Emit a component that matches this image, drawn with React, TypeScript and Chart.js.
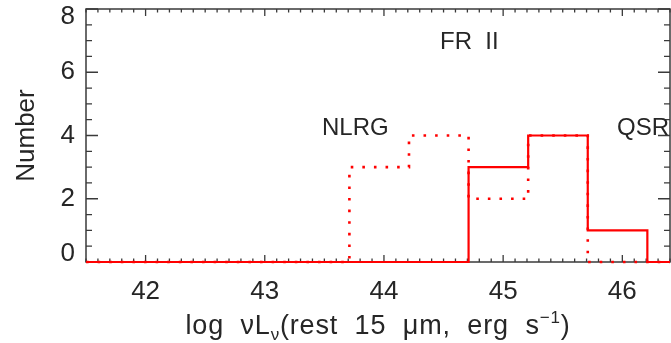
import React, { useEffect, useRef } from 'react';
import { Chart, registerables } from 'chart.js';

Chart.register(...registerables);

// ---- data ----
const binEdges = [43.71, 44.21, 44.71, 45.21, 45.71, 46.21];
const qsrCounts = [0, 0, 3, 4, 1];
const nlrgCounts = [3, 4, 2, 4, 0];
const xMin = 41.5;
const xMax = 46.4;
const yMin = 0;
const yMax = 8;
const xTickValues = [42, 43, 44, 45, 46];
const xTickLabels = ['42', '43', '44', '45', '46'];
const yTickValues = [0, 2, 4, 6, 8];
const yTickLabels = ['0', '2', '4', '6', '8'];

function histPoints(counts: number[]) {
  const pts: { x: number; y: number }[] = [{ x: xMin, y: 0 }];
  let prev = 0;
  for (let i = 0; i < counts.length; i++) {
    pts.push({ x: binEdges[i], y: prev });
    pts.push({ x: binEdges[i], y: counts[i] });
    prev = counts[i];
  }
  const last = binEdges[binEdges.length - 1];
  pts.push({ x: last, y: prev });
  pts.push({ x: last, y: 0 });
  pts.push({ x: xMax, y: 0 });
  return pts;
}

const FONT = '"Liberation Sans", Arial, Helvetica, sans-serif';
const TEXT = '#262626';
const AXIS = '#3a3a3a';

const framePlugin = {
  id: 'idlFrame',
  beforeDatasetsDraw(chart: any) {
    const { ctx, chartArea: a, scales } = chart;
    const xs = scales.x;
    const ys = scales.y;
    ctx.save();
    ctx.strokeStyle = AXIS;
    ctx.lineWidth = 1.5;
    ctx.strokeRect(a.left, a.top, a.right - a.left, a.bottom - a.top);
    ctx.lineWidth = 1.3;
    for (let k = Math.ceil(xMin * 10); k <= Math.floor(xMax * 10); k++) {
      const v = k / 10;
      const px = xs.getPixelForValue(v);
      const major = k % 10 === 0;
      const len = major ? 7 : 3.5;
      ctx.beginPath();
      ctx.moveTo(px, a.bottom);
      ctx.lineTo(px, a.bottom - len);
      ctx.moveTo(px, a.top);
      ctx.lineTo(px, a.top + len);
      ctx.stroke();
    }
    for (let k = yMin * 2; k <= yMax * 2; k++) {
      const v = k / 2;
      const py = ys.getPixelForValue(v);
      const major = k % 4 === 0;
      const len = major ? 12 : 6;
      ctx.beginPath();
      ctx.moveTo(a.left, py);
      ctx.lineTo(a.left + len, py);
      ctx.moveTo(a.right, py);
      ctx.lineTo(a.right - len, py);
      ctx.stroke();
    }
    ctx.restore();
  },
  afterDraw(chart: any) {
    const { ctx, chartArea: a, scales } = chart;
    const xs = scales.x;
    const ys = scales.y;
    ctx.save();
    ctx.fillStyle = TEXT;
    ctx.font = `26px ${FONT}`;
    ctx.textAlign = 'center';
    ctx.textBaseline = 'middle';
    xTickValues.forEach((v, i) => {
      ctx.fillText(xTickLabels[i], xs.getPixelForValue(v), a.bottom + 30);
    });
    ctx.textAlign = 'right';
    yTickValues.forEach((v, i) => {
      let py = ys.getPixelForValue(v);
      py = Math.min(Math.max(py, a.top + 8), a.bottom - 8);
      ctx.fillText(yTickLabels[i], a.left - 11, py);
    });
    ctx.save();
    ctx.translate(27, (a.top + a.bottom) / 2);
    ctx.rotate(-Math.PI / 2);
    ctx.textAlign = 'center';
    ctx.textBaseline = 'middle';
    ctx.font = `26px ${FONT}`;
    ctx.fillText('Number', 0, 0);
    ctx.restore();
    // x title with sub/superscripts
    const base = 27;
    const small = 17;
    const parts: [string, string][] = [
      ['log  \u03BDL', 'n'],
      ['\u03BD', 'sub'],
      ['(rest  15  \u03BCm,  erg  s', 'n'],
      ['\u22121', 'sup'],
      [')', 'n'],
    ];
    const c: any = ctx;
    c.letterSpacing = '0.8px';
    const fontFor = (t: string) => `${t === 'n' ? base : small}px ${FONT}`;
    let total = 0;
    parts.forEach(([s, t]) => {
      ctx.font = fontFor(t);
      total += ctx.measureText(s).width;
    });
    let x = (a.left + a.right) / 2 - total / 2;
    const baseline = 334;
    ctx.textAlign = 'left';
    ctx.textBaseline = 'alphabetic';
    parts.forEach(([s, t]) => {
      ctx.font = fontFor(t);
      const dy = t === 'sub' ? 6 : t === 'sup' ? -11 : 0;
      ctx.fillText(s, x, baseline + dy);
      x += ctx.measureText(s).width;
    });
    c.letterSpacing = '0px';
    ctx.font = `24px ${FONT}`;
    ctx.textBaseline = 'middle';
    ctx.textAlign = 'left';
    ctx.fillText('FR  II', 440, 42);
    ctx.fillText('NLRG', 322, 128);
    ctx.fillText('QSR', 617, 128);
    ctx.restore();
  },
};

export default function App() {
  const ref = useRef<HTMLCanvasElement | null>(null);
  useEffect(() => {
    if (!ref.current) return;
    const chart = new Chart(ref.current, {
      type: 'line',
      data: {
        datasets: [
          {
            label: 'QSR',
            data: histPoints(qsrCounts),
            borderColor: '#ff0000',
            borderWidth: 2.2,
            pointRadius: 0,
            tension: 0,
            clip: false as any,
            order: 0,
          },
          {
            label: 'NLRG',
            data: histPoints(nlrgCounts),
            borderColor: '#ff0000',
            borderWidth: 2.6,
            borderDash: [2.6, 9],
            pointRadius: 0,
            tension: 0,
            clip: false as any,
            order: 1,
          },
        ],
      },
      options: {
        animation: false,
        responsive: false,
        devicePixelRatio: 1,
        layout: { padding: { left: 86, top: 9, right: 1, bottom: 81 } },
        plugins: { legend: { display: false }, tooltip: { enabled: false } },
        scales: {
          x: { type: 'linear', min: xMin, max: xMax, display: false },
          y: { type: 'linear', min: yMin, max: yMax, display: false },
        },
      },
      plugins: [framePlugin],
    });
    return () => chart.destroy();
  }, []);
  return (
    <div style={{ position: 'absolute', left: 0, top: 0, width: 671, height: 343, background: '#fff' }}>
      <canvas ref={ref} width={671} height={343} style={{ display: 'block' }} />
    </div>
  );
}
